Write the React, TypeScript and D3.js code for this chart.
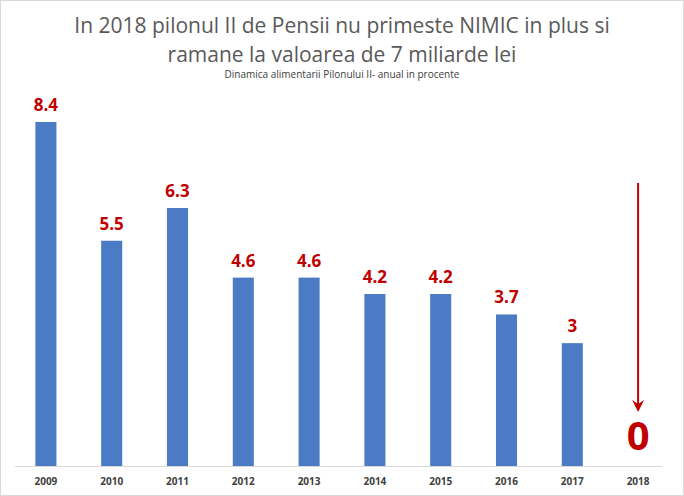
import React from "react";
import * as d3 from "d3";

const years = ["2009", "2010", "2011", "2012", "2013", "2014", "2015", "2016", "2017", "2018"];
const values = [8.4, 5.5, 6.3, 4.6, 4.6, 4.2, 4.2, 3.7, 3, 0];
const titleLines = [
  "In 2018 pilonul II de Pensii nu primeste NIMIC in plus si",
  "ramane la valoarea de 7 miliarde lei",
];
const subtitle = "Dinamica alimentarii Pilonului II- anual in procente";

const W = 684;
const H = 496;
const baseY = 466;

export default function App() {
  const x = d3.scaleBand<string>().domain(years).range([13, 671]).paddingInner(0.68).paddingOuter(0.34);
  const y = d3.scaleLinear().domain([0, 8.4]).range([baseY, 122]);
  const font = "'Open Sans', 'Liberation Sans', sans-serif";
  const lastX = (x("2018") ?? 0) + x.bandwidth() / 2;
  return (
    <svg width={W} height={H} style={{ position: "absolute", left: 0, top: 0 }}>
      <rect x={0.5} y={0.5} width={W - 1} height={H - 1} fill="#fff" stroke="#d9d9d9" />
      {titleLines.map((t, i) => (
        <text key={i} x={342} y={33 + i * 29} textAnchor="middle" fontFamily={font} fontSize={21} fill="#595959">
          {t}
        </text>
      ))}
      <text x={342} y={78} textAnchor="middle" fontFamily={font} fontSize={10} fill="#404040">
        {subtitle}
      </text>
      <line x1={15} x2={662} y1={baseY + 0.5} y2={baseY + 0.5} stroke="#d9d9d9" />
      {years.map((yr, i) =>
        values[i] > 0 ? (
          <g key={yr}>
            <rect x={x(yr)} y={y(values[i])} width={x.bandwidth()} height={baseY - y(values[i])} fill="#4a7bc4" />
            <text
              x={(x(yr) ?? 0) + x.bandwidth() / 2}
              y={y(values[i]) - 11}
              textAnchor="middle"
              fontFamily={font}
              fontWeight="bold"
              fontSize={17}
              fill="#c00000"
            >
              {values[i]}
            </text>
          </g>
        ) : null
      )}
      {years.map((yr) => (
        <text
          key={yr + "l"}
          x={(x(yr) ?? 0) + x.bandwidth() / 2}
          y={485}
          textAnchor="middle"
          fontFamily={font}
          fontWeight="bold"
          fontSize={10}
          fill="#404040"
        >
          {yr}
        </text>
      ))}
      <line x1={lastX} x2={lastX} y1={183} y2={404} stroke="#c00000" strokeWidth={2} />
      <path d={`M${lastX - 6},${400} L${lastX},${412} L${lastX + 6},${400} L${lastX},${404} Z`} fill="#c00000" />
      <text x={lastX} y={450} textAnchor="middle" fontFamily={font} fontWeight="bold" fontSize={40} fill="#c00000">
        {values[9]}
      </text>
    </svg>
  );
}
